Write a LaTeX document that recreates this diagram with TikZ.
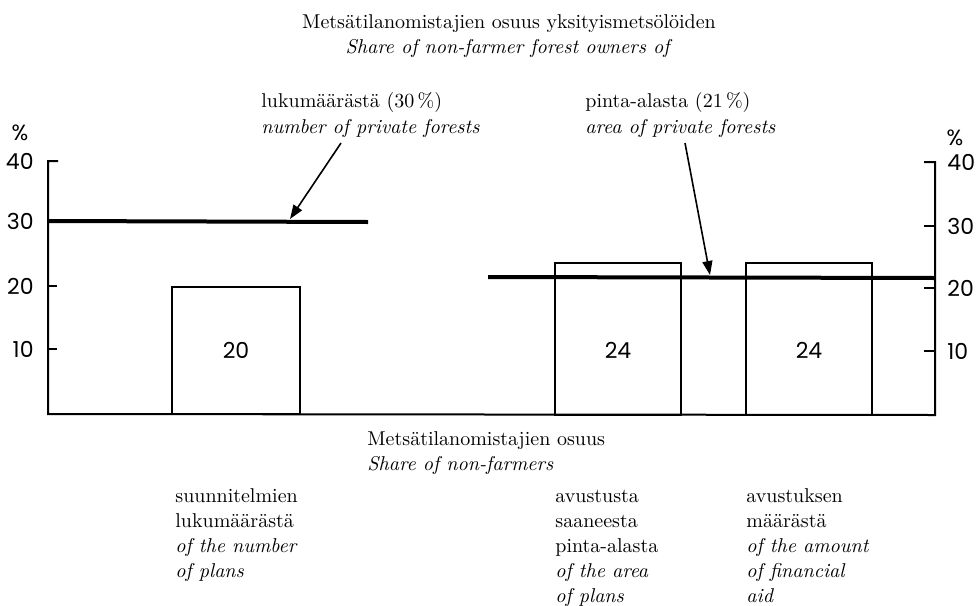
\documentclass[tikz,border=0pt]{standalone}
\usepackage{fontspec}
\newfontfamily\numfont{Poppins}
\usetikzlibrary{arrows.meta}
\begin{document}
\begin{tikzpicture}[x=0.5pt,y=-0.5pt,
  axis/.style={line width=1pt, line join=miter},
  bar/.style={draw, line width=0.8pt},
  refline/.style={line width=2pt},
  num/.style={font=\numfont\fontsize{11}{13}\selectfont, inner sep=0pt},
  lab/.style={font=\fontsize{10}{12.5}\selectfont, align=left, inner sep=0pt, anchor=base west},
  ptr/.style={line width=0.8pt, -{Triangle[length=7pt,width=5pt]}}]
\useasboundingbox (0,0) rectangle (978,605);
% axes
\draw[axis] (58,161) -- (48,161) -- (48,414) -- (935,415) -- (935,162) -- (924,162);
\foreach \y in {221,286,349} \draw[axis] (48,\y) -- (57,\y);
\foreach \y in {226,288,351} \draw[axis] (935,\y) -- (924,\y);
% axis numbers
\node[num, anchor=east] (l40) at (34,161) {40};
\node[num, anchor=east] (l30) at (34,221) {30};
\node[num, anchor=east] (l20) at (34,286) {20};
\node[num, anchor=east] (l10) at (34,349) {10};
\node[num, anchor=west] (r40) at (947,162) {40};
\node[num, anchor=west] (r30) at (947,226) {30};
\node[num, anchor=west] (r20) at (947,288) {20};
\node[num, anchor=west] (r10) at (947,351) {10};
\node[num] (lpct) at (20,133) {\%};
\node[num] (rpct) at (955,138) {\%};
% bars
\draw[bar] (172,414) rectangle (300,287);
\draw[bar] (555,415) rectangle (681,263);
\draw[bar] (746,415) rectangle (872,263);
\node[num] (b1) at (236,350) {20};
\node[num] (b2) at (618,350) {24};
\node[num] (b3) at (809,350) {24};
% reference lines
\draw[refline] (48,221) -- (368,222);
\draw[refline] (488,277) -- (935,278);
% top labels (anchor = baseline of last line)
\node[lab, align=center, anchor=base, font=\fontsize{10}{12.5}\selectfont] (title) at (509,53)
  {Metsätilanomistajien osuus yksityismetsölöiden\\\textit{Share of non-farmer forest owners of}};
\node[lab, font=\fontsize{10}{13}\selectfont] (num30) at (261,133)
  {lukumäärästä (30\,\%)\\\textit{number of private forests}};
\node[lab, font=\fontsize{10}{13}\selectfont] (area21) at (585,133)
  {pinta-alasta (21\,\%)\\\textit{area of private forests}};
% arrows
\coordinate (a1s) at (341,143);
\coordinate (a1e) at (290,219);
\coordinate (a2s) at (685,143);
\coordinate (a2e) at (710,275);
\draw[ptr] (a1s) -- (a1e);
\draw[ptr] (a2s) -- (a2e);
% bottom labels
\node[lab] (share) at (367,470)
  {Metsätilanomistajien osuus\\\textit{Share of non-farmers}};
\node[lab] (plans) at (175,577)
  {suunnitelmien\\lukumäärästä\\\textit{of the number}\\\textit{of plans}};
\node[lab] (areaplans) at (555,602)
  {avustusta\\saaneesta\\pinta-alasta\\\textit{of the area}\\\textit{of plans}};
\node[lab] (aid) at (746,602)
  {avustuksen\\määrästä\\\textit{of the amount}\\\textit{of financial}\\\textit{aid}};
\end{tikzpicture}
\end{document}
